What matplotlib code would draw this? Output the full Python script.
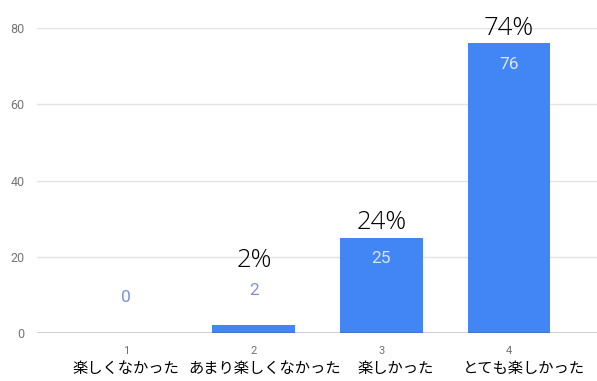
import matplotlib
matplotlib.use("Agg")
import matplotlib.pyplot as plt

# answers to the survey (1-4 scale)
codes = ["1", "2", "3", "4"]
answers = ["楽しくなかった", "あまり楽しくなかった", "楽しかった", "とても楽しかった"]
counts = [0, 2, 25, 76]
shares = ["", "2%", "24%", "74%"]
yticks = [0, 20, 40, 60, 80]

BLUE = "#4285f4"

plt.rcParams["font.family"] = ["Roboto", "DejaVu Sans"]

fig = plt.figure(figsize=(5.97, 3.81), dpi=100)
ax = fig.add_axes([37 / 597, 48 / 381, 560 / 597, 305 / 381])

x = list(range(len(counts)))
ax.bar(x, counts, width=0.65, color=BLUE, zorder=2)

ax.set_xlim(-0.70, 3.69)
ax.set_ylim(0, 80)
ax.set_yticks(yticks)
ax.set_yticklabels([str(v) for v in yticks], color="#757575", fontsize=9)
ax.yaxis.grid(True, color="#e3e3e3", linewidth=1.0, zorder=0)
ax.tick_params(axis="y", length=0, pad=9)
ax.tick_params(axis="x", length=0)
ax.set_xticks(x)
ax.set_xticklabels([])
for s in ax.spines.values():
    s.set_visible(False)
ax.axhline(0, color="#333333", linewidth=1.0, zorder=3)

# category codes and their Japanese names under the axis
name_shift = [0, 11, 14, 15]
for i, (c, name) in enumerate(zip(codes, answers)):
    ax.annotate(c, (i, 0), xytext=(0, -18), textcoords="offset pixels",
                ha="center", va="center", fontsize=8, color="#6f6f6f")
    ax.annotate(name, (i, 0), xytext=(name_shift[i], -35), textcoords="offset pixels",
                ha="center", va="center", fontsize=11, color="black",
                family=["Noto Sans CJK JP", "DejaVu Sans"])

# counts: inside tall bars, above short ones; share above that
for i, (v, pct) in enumerate(zip(counts, shares)):
    if v > 10:
        ax.annotate(str(v), (i, v), xytext=(0, -21), textcoords="offset pixels",
                    ha="center", va="center", fontsize=12.5, color="#d8e6fd")
        pct_off = 15
    else:
        ax.annotate(str(v), (i, v), xytext=(0, 35), textcoords="offset pixels",
                    ha="center", va="center", fontsize=12.5, color="#7d93d8")
        pct_off = 65
    if pct:
        ax.annotate(pct, (i, v), xytext=(0, pct_off), textcoords="offset pixels",
                    ha="center", va="center", fontsize=18.5, color="black",
                    fontweight=300, annotation_clip=False,
                    family=["Open Sans", "DejaVu Sans"])

fig.savefig("out.png", dpi=100)
